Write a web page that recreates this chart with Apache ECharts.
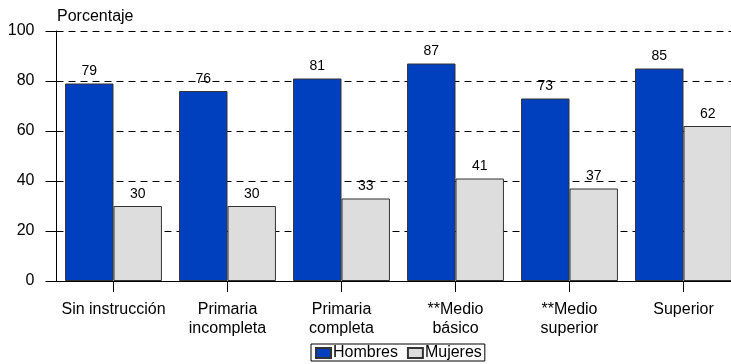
<!DOCTYPE html>
<html>
<head>
<meta charset="utf-8">
<script src="https://cdn.jsdelivr.net/npm/echarts@6/dist/echarts.min.js"></script>
<style>
  html, body { margin: 0; padding: 0; background: #fff; }
  #chart { width: 731px; height: 364px; }
</style>
</head>
<body>
<div id="chart"></div>
<script>
const categories = ['Sin instrucción', 'Primaria\nincompleta', 'Primaria\ncompleta', '**Medio\nbásico', '**Medio\nsuperior', 'Superior'];
const hombres = [79, 76, 81, 87, 73, 85];
const mujeres = [30, 30, 33, 41, 37, 62];
const yTicks = [0, 20, 40, 60, 80, 100];

const font = 'Liberation Sans, Arial, sans-serif';
const chart = echarts.init(document.getElementById('chart'), null, { renderer: 'canvas' });

const valueLabel = {
  show: true, position: 'top', distance: 5,
  color: '#000', fontFamily: font, fontSize: 14
};

// Short ticks below the x axis, one at the centre of every category,
// drawn as 1px-wide rectangles from the axis position.
function renderCategoryTick(params, api) {
  const p = api.coord([api.value(0), api.value(1)]);
  return {
    type: 'rect',
    silent: true,
    shape: { x: Math.round(p[0] - 0.5), y: Math.round(p[1]), width: 1, height: 11 },
    style: { fill: '#000' }
  };
}

chart.setOption({
  animation: false,
  backgroundColor: '#fff',
  textStyle: { fontFamily: font },
  // plot runs a little past the right edge of the canvas
  grid: { left: 56.5, top: 31, width: 684, height: 250, containLabel: false, outerBoundsMode: 'none' },
  title: {
    text: 'Porcentaje', left: 52, top: 4,
    textStyle: { fontFamily: font, fontSize: 16, fontWeight: 'normal', color: '#000' }
  },
  legend: {
    top: 344, left: 311,
    icon: 'rect',
    itemWidth: 15, itemHeight: 10, itemGap: 9,
    padding: [1, 3, 0, 4],
    borderColor: '#000', borderWidth: 1,
    textStyle: { fontFamily: font, fontSize: 16, color: '#000', padding: [0, 0, 0, -3] },
    data: ['Hombres', 'Mujeres']
  },
  xAxis: {
    type: 'category',
    data: categories,
    axisLine: { show: true, lineStyle: { color: '#000', width: 1 } },
    axisTick: { show: false },
    axisLabel: { color: '#000', fontFamily: font, fontSize: 16, margin: 19, lineHeight: 19, interval: 0 }
  },
  yAxis: {
    type: 'value',
    min: yTicks[0], max: yTicks[yTicks.length - 1], interval: 20,
    axisLine: { show: true, lineStyle: { color: '#000', width: 1 } },
    axisTick: { show: true, length: 11, lineStyle: { color: '#000' } },
    axisLabel: { color: '#000', fontFamily: font, fontSize: 16, margin: 22 },
    splitLine: { show: true, lineStyle: { color: '#000', type: [7, 5], width: 1 } }
  },
  series: [
    {
      name: 'Hombres', type: 'bar', data: hombres,
      barGap: '0%', barCategoryGap: '15%',
      itemStyle: { color: '#0040BF', borderColor: '#333', borderWidth: 1 },
      label: valueLabel
    },
    {
      name: 'Mujeres', type: 'bar', data: mujeres,
      itemStyle: { color: '#DDDDDD', borderColor: '#333', borderWidth: 1 },
      label: valueLabel
    },
    {
      name: 'ticks', type: 'custom',
      data: categories.map((c, i) => [i, yTicks[0]]),
      renderItem: renderCategoryTick,
      clip: false, silent: true, z: 10,
      tooltip: { show: false }
    }
  ]
});
</script>
</body>
</html>
